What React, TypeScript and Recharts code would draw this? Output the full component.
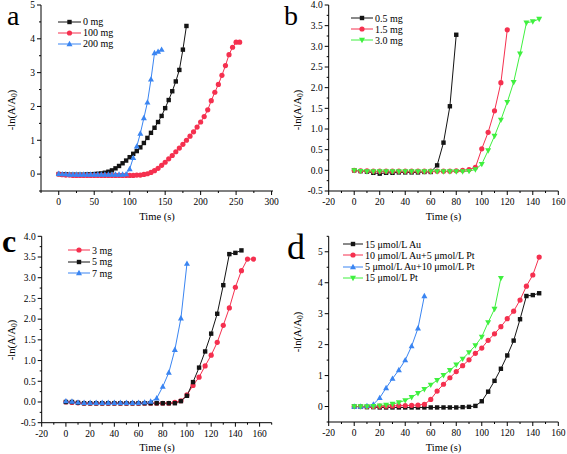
import { LineChart, Line, XAxis, YAxis } from 'recharts';

const FONT = '"Liberation Serif", "Times New Roman", serif';
const BLACK = '#141414';
const RED = '#f5304f';
const BLUE = '#3a85f2';
const GREEN = '#3ff03f';

// sampling times (s), every series starts at 0
const TIME = [
  0, 5, 10, 15, 20, 25, 30, 35, 40, 45, 50, 55, 60, 65, 70, 75, 80, 85, 90, 95,
  100, 105, 110, 115, 120, 125, 130, 135, 140, 145, 150, 155, 160, 165, 170, 175,
  180, 185, 190, 195, 200, 205, 210, 215, 220, 225, 230, 235, 240, 245, 250, 255,
];

// panel a
const A_0MG = [
  0, -0.01, -0.01, -0.02, -0.02, -0.02, -0.02, -0.02, -0.01, -0.01,
  0.0, 0.01, 0.02, 0.04, 0.07, 0.11, 0.17, 0.24, 0.32, 0.4,
  0.5, 0.6, 0.68, 0.79, 0.92, 1.07, 1.22, 1.37, 1.54, 1.72,
  1.95, 2.19, 2.45, 2.74, 3.08, 3.68, 4.38,
];
const A_100MG = [
  0, -0.02, -0.03, -0.03, -0.04, -0.04, -0.04, -0.04, -0.04, -0.04, -0.04, -0.04,
  -0.04, -0.04, -0.04, -0.04, -0.04, -0.04, -0.04, -0.04, -0.04, -0.04, -0.03, -0.03,
  -0.01, 0.01, 0.05, 0.1, 0.17, 0.26, 0.35, 0.45, 0.55, 0.66, 0.77, 0.88, 1.0, 1.12,
  1.25, 1.39, 1.54, 1.7, 1.9, 2.17, 2.42, 2.65, 2.92, 3.21, 3.53, 3.75, 3.9, 3.9,
];
const A_200MG = [
  0.01, 0.0, 0.0, -0.01, -0.01, -0.01, -0.01, -0.01, -0.01, -0.01,
  -0.01, -0.01, -0.01, -0.01, -0.01, -0.01, -0.01, -0.01, -0.01, 0.0,
  0.15, 0.48, 0.82, 1.2, 1.66, 2.12, 2.8, 3.58, 3.62, 3.68,
];

// panel b
const B_05MG = [
  0.0, -0.02, -0.03, -0.06, -0.08, -0.06, -0.06, -0.05, -0.05, -0.05, -0.05, -0.04, -0.04,
  0.12, 0.67, 1.55, 3.28,
];
const B_15MG = [
  0.0, -0.01, -0.01, -0.02, -0.02, -0.02, -0.02, -0.02, -0.02, -0.02, -0.02, -0.02,
  -0.02, -0.02, -0.02, -0.02, -0.01, 0.0,
  0.02, 0.07, 0.52, 0.92, 1.44, 2.12, 3.4,
];
const B_30MG = [
  0.0, -0.02, -0.03, -0.03, -0.03, -0.03, -0.03, -0.03, -0.03, -0.03, -0.03, -0.03,
  -0.03, -0.03, -0.03, -0.03, -0.03, -0.03, -0.02,
  0.02, 0.15, 0.48, 0.83, 1.22, 1.65, 2.13, 2.82, 3.57, 3.6, 3.66,
];

// panel c
const C_3MG = [
  0.0, -0.01, -0.02, -0.03, -0.03, -0.03, -0.03, -0.03, -0.03, -0.03, -0.03, -0.03,
  -0.03, -0.03, -0.03, -0.03, -0.03, -0.03, -0.01,
  0.03, 0.17, 0.4, 0.6, 0.87, 1.13, 1.44, 1.85, 2.27, 2.77, 3.17, 3.45, 3.45,
];
const C_5MG = [
  0.0, 0.0, -0.02, -0.03, -0.03, -0.03, -0.03, -0.03, -0.03, -0.03, -0.03, -0.03,
  -0.03, -0.03, -0.03, -0.03, -0.03, -0.03, -0.03,
  0.02, 0.15, 0.48, 0.83, 1.22, 1.65, 2.13, 2.82, 3.57, 3.6, 3.66,
];
const C_7MG = [
  0.02, 0.01, -0.01, -0.02, -0.02, -0.02, -0.02, -0.02, -0.02, -0.02, -0.02, -0.02,
  -0.02, -0.01, 0.01,
  0.09, 0.37, 0.71, 1.26, 2.02, 3.34,
];

// panel d
const D_AU = [
  0.0, -0.01, -0.02, -0.02, -0.03, -0.03, -0.03, -0.03, -0.03, -0.03, -0.03, -0.03,
  -0.03, -0.03, -0.03, -0.03, -0.03, -0.02, -0.01,
  0.02, 0.17, 0.48, 0.83, 1.22, 1.65, 2.13, 2.82, 3.57, 3.6, 3.66,
];
const D_AU10_PT5 = [
  0.0, 0.0, 0.0, 0.0, 0.01, 0.01, 0.02, 0.03, 0.03, 0.04, 0.05, 0.07, 0.23, 0.5, 0.72,
  0.93, 1.13, 1.32, 1.51, 1.72, 1.89, 2.14, 2.35, 2.58, 2.84, 3.08, 3.44, 3.89, 4.25, 4.83,
];
const D_AU5_PT10 = [0.0, 0.0, 0.02, 0.07, 0.28, 0.6, 0.9, 1.18, 1.5, 1.95, 2.53, 3.57];
const D_PT = [
  0.0, 0.0, 0.0, 0.01, 0.03, 0.05, 0.08, 0.13, 0.2, 0.3, 0.43, 0.56, 0.7, 0.85, 1.01,
  1.17, 1.35, 1.54, 1.75, 1.97, 2.25, 2.72, 3.15, 4.15,
];

// ticks
const XA_MAJOR = [0, 50, 100, 150, 200, 250, 300];
const XA_MINOR = [-25, 25, 75, 125, 175, 225, 275];
const X_MAJOR = [-20, 0, 20, 40, 60, 80, 100, 120, 140, 160];
const X_MINOR = [-10, 10, 30, 50, 70, 90, 110, 130, 150];
const XC_MINOR = [-10, 10, 30, 50, 70, 90, 110, 130, 150, 170];
const YA_MAJOR = [0, 1, 2, 3, 4, 5];
const YA_MINOR = [-0.5, 0.5, 1.5, 2.5, 3.5, 4.5];
const YB_MAJOR = [-0.5, 0, 0.5, 1, 1.5, 2, 2.5, 3, 3.5, 4];
const YB_MINOR = [-0.25, 0.25, 0.75, 1.25, 1.75, 2.25, 2.75, 3.25, 3.75];
const YD_MAJOR = [0, 1, 2, 3, 4, 5];
const YD_MINOR = [-0.5, 0.5, 1.5, 2.5, 3.5, 4.5, 5.5];

type Shape = 'square' | 'circle' | 'up' | 'down';
type Series = { name: string; values: number[]; color: string; shape: Shape };

const toPoints = (values: number[]) => values.map((v, i) => ({ t: TIME[i], v }));

function Marker({ shape, cx, cy, color }: { shape: Shape; cx: number; cy: number; color: string }) {
  if (cx == null || cy == null) return null;
  if (shape === 'square') return <rect x={cx - 2.2} y={cy - 2.2} width={4.4} height={4.4} fill={color} />;
  if (shape === 'circle') return <circle cx={cx} cy={cy} r={2.6} fill={color} />;
  if (shape === 'up')
    return <polygon points={`${cx},${cy - 3.2} ${cx - 3},${cy + 2.2} ${cx + 3},${cy + 2.2}`} fill={color} />;
  return <polygon points={`${cx},${cy + 3.2} ${cx - 3},${cy - 2.2} ${cx + 3},${cy - 2.2}`} fill={color} />;
}

type PanelProps = {
  left: number;
  top: number;
  width: number;
  height: number;
  plot: { l: number; r: number; t: number; b: number };
  xDomain: [number, number];
  xMajor: number[];
  xMinor: number[];
  yDomain: [number, number];
  yMajor: number[];
  yMinor: number[];
  yDigits: number;
  series: Series[];
  legend: { x: number; y: number; line: number; step: number };
};

function Panel(p: PanelProps) {
  const xTicks = [...p.xMajor, ...p.xMinor].sort((a, b) => a - b);
  const yTicks = [...p.yMajor, ...p.yMinor].sort((a, b) => a - b);

  const xTick = (props: any) => {
    const { x, y, payload } = props;
    const major = p.xMajor.includes(payload.value);
    return (
      <g>
        <line x1={x} x2={x} y1={y} y2={y + (major ? 4 : 2)} stroke="#000" />
        {major && (
          <text x={x} y={y + 14} textAnchor="middle" fontSize={9.5} fontFamily={FONT} fill="#000">
            {payload.value}
          </text>
        )}
      </g>
    );
  };

  const yTick = (props: any) => {
    const { x, y, payload } = props;
    const major = p.yMajor.includes(payload.value);
    return (
      <g>
        <line x1={x} x2={x - (major ? 4 : 2)} y1={y} y2={y} stroke="#000" />
        {major && (
          <text x={x - 6} y={y} dy="0.35em" textAnchor="end" fontSize={9.5} fontFamily={FONT} fill="#000">
            {payload.value.toFixed(p.yDigits)}
          </text>
        )}
      </g>
    );
  };

  return (
    <div style={{ position: 'absolute', left: p.left, top: p.top, width: p.width, height: p.height }}>
      <LineChart
        width={p.width}
        height={p.height}
        margin={{ top: p.plot.t, right: p.width - p.plot.r, bottom: 0, left: 0 }}
      >
        <XAxis
          dataKey="t"
          type="number"
          domain={p.xDomain}
          allowDataOverflow
          ticks={xTicks}
          interval={0}
          tickSize={0}
          tickMargin={0}
          tickLine={false}
          tick={xTick}
          height={p.height - p.plot.b}
          stroke="#000"
        />
        <YAxis
          dataKey="v"
          type="number"
          domain={p.yDomain}
          allowDataOverflow
          ticks={yTicks}
          interval={0}
          tickSize={0}
          tickMargin={0}
          tickLine={false}
          tick={yTick}
          width={p.plot.l}
          stroke="#000"
        />
        {p.series.map((s) => (
          <Line
            key={s.name}
            data={toPoints(s.values)}
            dataKey="v"
            name={s.name}
            stroke={s.color}
            strokeWidth={1}
            isAnimationActive={false}
            dot={(d: any) => <Marker key={d.index} shape={s.shape} cx={d.cx} cy={d.cy} color={s.color} />}
            activeDot={false}
          />
        ))}
      </LineChart>
      {p.series.map((s, i) => (
        <div
          key={s.name}
          style={{
            position: 'absolute',
            left: p.legend.x,
            top: p.legend.y + i * p.legend.step - 6,
            height: 12,
            display: 'flex',
            alignItems: 'center',
            whiteSpace: 'nowrap',
            fontFamily: FONT,
            fontSize: 10,
            color: '#000',
          }}
        >
          <svg width={p.legend.line} height={12} style={{ marginRight: 2 }}>
            <line x1={0} x2={p.legend.line} y1={6} y2={6} stroke={s.color} strokeWidth={1} />
            <Marker shape={s.shape} cx={p.legend.line / 2} cy={6} color={s.color} />
          </svg>
          <span>{s.name}</span>
        </div>
      ))}
    </div>
  );
}

function YTitle({ x, y }: { x: number; y: number }) {
  return (
    <text
      transform={`translate(${x},${y}) rotate(-90)`}
      textAnchor="middle"
      fontSize={10.5}
      fontFamily={FONT}
      fill="#000"
    >
      -ln(A/A
      <tspan fontSize={7.5} dy={2}>
        0
      </tspan>
      <tspan dy={-2}>)</tspan>
    </text>
  );
}

function XTitle({ x, y }: { x: number; y: number }) {
  return (
    <text x={x} y={y} textAnchor="middle" fontSize={10.5} fontFamily={FONT} fill="#000">
      Time (s)
    </text>
  );
}

export default function App() {
  return (
    <div style={{ position: 'absolute', left: 0, top: 0, width: 567, height: 454, background: '#fff' }}>
      <Panel
        left={0}
        top={0}
        width={283}
        height={227}
        plot={{ l: 41, r: 273, t: 5, b: 191 }}
        xDomain={[-25, 302]}
        xMajor={XA_MAJOR}
        xMinor={XA_MINOR}
        yDomain={[-0.5, 5]}
        yMajor={YA_MAJOR}
        yMinor={YA_MINOR}
        yDigits={0}
        series={[
          { name: '0 mg', values: A_0MG, color: BLACK, shape: 'square' },
          { name: '100 mg', values: A_100MG, color: RED, shape: 'circle' },
          { name: '200 mg', values: A_200MG, color: BLUE, shape: 'up' },
        ]}
        legend={{ x: 58, y: 21.7, line: 23, step: 11 }}
      />
      <Panel
        left={283}
        top={0}
        width={284}
        height={227}
        plot={{ l: 45.7, r: 275.3, t: 5, b: 191 }}
        xDomain={[-20, 160]}
        xMajor={X_MAJOR}
        xMinor={X_MINOR}
        yDomain={[-0.5, 4]}
        yMajor={YB_MAJOR}
        yMinor={YB_MINOR}
        yDigits={1}
        series={[
          { name: '0.5 mg', values: B_05MG, color: BLACK, shape: 'square' },
          { name: '1.5 mg', values: B_15MG, color: RED, shape: 'circle' },
          { name: '3.0 mg', values: B_30MG, color: GREEN, shape: 'down' },
        ]}
        legend={{ x: 68, y: 18.3, line: 22, step: 11 }}
      />
      <Panel
        left={0}
        top={227}
        width={283}
        height={227}
        plot={{ l: 41.7, r: 271.7, t: 9.3, b: 195.7 }}
        xDomain={[-20, 170]}
        xMajor={X_MAJOR}
        xMinor={XC_MINOR}
        yDomain={[-0.5, 4]}
        yMajor={YB_MAJOR}
        yMinor={YB_MINOR}
        yDigits={1}
        series={[
          { name: '3 mg', values: C_3MG, color: RED, shape: 'circle' },
          { name: '5 mg', values: C_5MG, color: BLACK, shape: 'square' },
          { name: '7 mg', values: C_7MG, color: BLUE, shape: 'up' },
        ]}
        legend={{ x: 68, y: 23, line: 22, step: 11.5 }}
      />
      <Panel
        left={283}
        top={227}
        width={284}
        height={227}
        plot={{ l: 45.7, r: 275.3, t: 9.3, b: 195 }}
        xDomain={[-20, 160]}
        xMajor={X_MAJOR}
        xMinor={X_MINOR}
        yDomain={[-0.5, 5.5]}
        yMajor={YD_MAJOR}
        yMinor={YD_MINOR}
        yDigits={0}
        series={[
          { name: '15 μmol/L Au', values: D_AU, color: BLACK, shape: 'square' },
          { name: '10 μmol/L Au+5 μmol/L Pt', values: D_AU10_PT5, color: RED, shape: 'circle' },
          { name: '5 μmol/L Au+10 μmol/L Pt', values: D_AU5_PT10, color: BLUE, shape: 'up' },
          { name: '15 μmol/L Pt', values: D_PT, color: GREEN, shape: 'down' },
        ]}
        legend={{ x: 60, y: 17.3, line: 20, step: 11.1 }}
      />
      <svg
        width={567}
        height={454}
        style={{ position: 'absolute', left: 0, top: 0, pointerEvents: 'none' }}
      >
        <text x={7} y={25} fontSize={28} fontFamily={FONT} fill="#000">a</text>
        <text x={284} y={25} fontSize={28} fontFamily={FONT} fill="#000">b</text>
        <text x={2} y={252} fontSize={32} fontWeight="bold" fontFamily={FONT} fill="#000">c</text>
        <text x={287} y={259} fontSize={36} fontFamily={FONT} fill="#000">d</text>
        <YTitle x={15} y={110} />
        <YTitle x={301} y={110} />
        <YTitle x={15} y={340} />
        <YTitle x={301} y={332} />
        <XTitle x={157} y={220} />
        <XTitle x={443.5} y={220} />
        <XTitle x={157} y={451} />
        <XTitle x={443.5} y={451} />
      </svg>
    </div>
  );
}
